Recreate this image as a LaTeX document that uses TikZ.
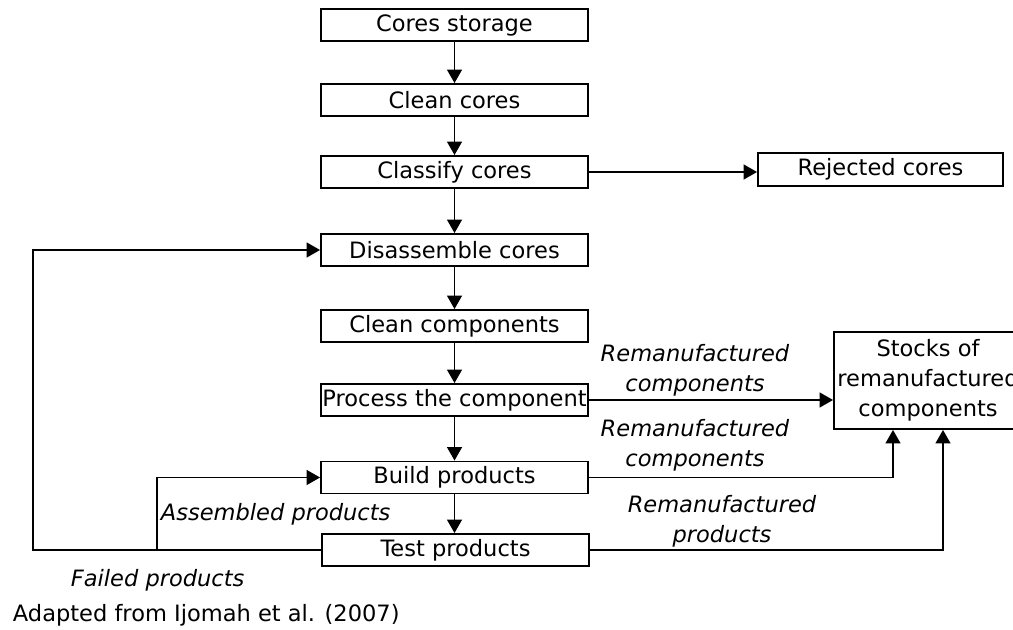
\documentclass[tikz,border=0pt]{standalone}
\usepackage{fontspec}
\setmainfont{DejaVu Sans}
\usepackage{tikz}
\usetikzlibrary{arrows.meta,positioning,calc}

\begin{document}
\begin{tikzpicture}[
    x=0.75pt, y=-0.75pt,
    line width=1.4pt,
    >={Triangle[length=10pt,width=11pt]},
    procbox/.style={rectangle, draw=black, fill=white, minimum width=200.25pt,
                    minimum height=24pt, inner sep=0pt, text centered,
                    font=\fontsize{16.9}{22.5}\selectfont},
    flowlabel/.style={font=\fontsize{16.9}{22.5}\selectfont\itshape, align=center, inner sep=0pt},
    notelabel/.style={font=\fontsize{16.9}{22.5}\selectfont, inner sep=0pt}
]
\useasboundingbox (0,0) rectangle (1013,630);

% Main column
\node[procbox] (storage) at (454.5, 25) {Cores storage};
\node[procbox] (cleancores) at (454.5, 100) {Clean cores};
\node[procbox] (classify) at (454.5, 172) {Classify cores};
\node[procbox] (disassemble) at (454.5, 250) {Disassemble cores};
\node[procbox] (cleancomp) at (454.5, 326) {Clean components};
\node[procbox] (process) at (454.5, 400) {Process the component};
\node[procbox] (build) at (454.5, 477.5) {Build products};
\node[procbox] (test) at (455.5, 550) {Test products};

% Side boxes
\node[procbox, minimum width=183.75pt, minimum height=24.75pt] (rejected) at (880.5, 169.5) {Rejected cores};
\node[procbox, minimum width=141pt, minimum height=72.75pt, align=center] (stocks) at (928, 380.5)
    {Stocks of\\remanufactured\\components};

% Arrows down the column
\draw[->] (storage) -- (cleancores);
\draw[->] (cleancores) -- (classify);
\draw[->] (classify) -- (disassemble);
\draw[->] (disassemble) -- (cleancomp);
\draw[->] (cleancomp) -- (process);
\draw[->] (process) -- (build);
\draw[->] (build) -- (build |- test.north);

% Arrows to the side boxes
\draw[->] (classify.east) -- (classify.east -| rejected.west);
\draw[->] (process.east) -- (process.east -| stocks.west);
\draw[->] (build.east) -| ([xshift=-26.25pt]stocks.south);
\draw[->] (test.east) -| ([xshift=11.25pt]stocks.south);

% Feedback loops
\coordinate (failed) at (33, 550);
\coordinate (assembled) at (157, 550);
\draw[->] (test.west) -- (failed) |- (disassemble.west);
\draw[->] (assembled) |- (build.west);

% Labels
\node[flowlabel] (lblcomp1) at (695, 370) {Remanufactured\\components};
\node[flowlabel] (lblcomp2) at (695, 445) {Remanufactured\\components};
\node[flowlabel] (lblprod) at (722, 521) {Remanufactured\\products};
\node[flowlabel, anchor=west] (lblassembled) at (160, 514) {Assembled products};
\node[flowlabel, anchor=west] (lblfailed) at (70, 580) {Failed products};
\node[notelabel, anchor=west] (source) at (12, 615) {Adapted from Ijomah et al. (2007)};

\end{tikzpicture}
\end{document}
